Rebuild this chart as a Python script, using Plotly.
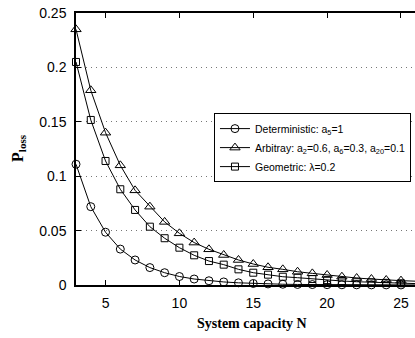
import plotly.graph_objects as go

N = list(range(3, 27))
det = [0.111, 0.072, 0.0485, 0.033, 0.023, 0.016, 0.0113, 0.0078, 0.0055, 0.0039,
       0.0028, 0.002, 0.0014, 0.001, 0.0007, 0.0005, 0.0004, 0.0003, 0.0002, 0.00015,
       0.0001, 0.0001, 0.00005, 0.00005]
arb = [0.235, 0.179, 0.14, 0.11, 0.087, 0.072, 0.058, 0.0475, 0.039, 0.0328,
       0.0276, 0.023, 0.0193, 0.0163, 0.0144, 0.0122, 0.0107, 0.0092, 0.0076, 0.0064,
       0.0055, 0.0046, 0.004, 0.0035]
geo = [0.205, 0.1517, 0.114, 0.088, 0.069, 0.0536, 0.043, 0.0343, 0.0273, 0.022,
       0.0187, 0.0144, 0.0113, 0.0095, 0.0076, 0.0067, 0.0055, 0.0045, 0.0037, 0.003,
       0.0025, 0.002, 0.0016, 0.0013]

names = ["Deterministic: a<sub>5</sub>=1",
         "Arbitray: a<sub>2</sub>=0.6, a<sub>6</sub>=0.3, a<sub>20</sub>=0.1",
         "Geometric: λ=0.2"]
symbols = ["circle-open", "triangle-up-open", "square-open"]
sizes = [8, 9, 7]

xticks = [5, 10, 15, 20, 25]
yticks = [0, 0.05, 0.1, 0.15, 0.2, 0.25]
yticklabels = ["0", "0.05", "0.1", "0.15", "0.2", "0.25"]

fig = go.Figure()
for ys, nm, sym, sz in zip([det, arb, geo], names, symbols, sizes):
    fig.add_trace(go.Scatter(
        x=N, y=ys, name=nm, mode="lines+markers",
        line=dict(color="black", width=1),
        marker=dict(symbol=sym, size=sz, color="black", line=dict(width=1)),
        cliponaxis=False,
    ))

fig.update_layout(
    width=415, height=338,
    margin=dict(l=76, r=0, t=13, b=53),
    paper_bgcolor="white", plot_bgcolor="white",
    font=dict(family="Liberation Sans, Arial, sans-serif", size=14, color="black"),
    showlegend=True,
    legend=dict(x=0.407, y=0.632, xanchor="left", yanchor="top",
                bgcolor="white", bordercolor="black", borderwidth=1,
                font=dict(size=10.5, family="Liberation Sans, Arial, sans-serif"),
                tracegroupgap=0, itemwidth=30),
)
fig.update_xaxes(range=[3, 25.95], tickvals=xticks, ticks="inside", ticklen=5,
                 tickcolor="black", showline=True, linecolor="black", linewidth=1.5,
                 mirror="ticks", showgrid=False, zeroline=False,
                 ticklabelstandoff=4)
fig.update_yaxes(range=[0, 0.25], tickvals=yticks, ticktext=yticklabels,
                 ticks="inside", ticklen=5, tickcolor="black",
                 showline=True, linecolor="black", linewidth=1.5,
                 showgrid=True, gridcolor="#777777", griddash="1px,4px", gridwidth=1,
                 zeroline=False, ticklabelstandoff=5)

fig.add_annotation(text="<b>System capacity N</b>", xref="paper", yref="paper",
                   x=(252 - 76) / 339, y=-(323 - 285) / 272, xanchor="center",
                   yanchor="middle", showarrow=False,
                   font=dict(family="Liberation Serif, Times New Roman, serif", size=14))
fig.add_annotation(text="<b>P<sub>loss</sub></b>", xref="paper", yref="paper",
                   x=-(76 - 18) / 339, y=(285 - 148) / 272, xanchor="center",
                   yanchor="middle", showarrow=False, textangle=-90,
                   font=dict(family="Liberation Serif, Times New Roman, serif", size=16))

fig.write_html("out.html")
